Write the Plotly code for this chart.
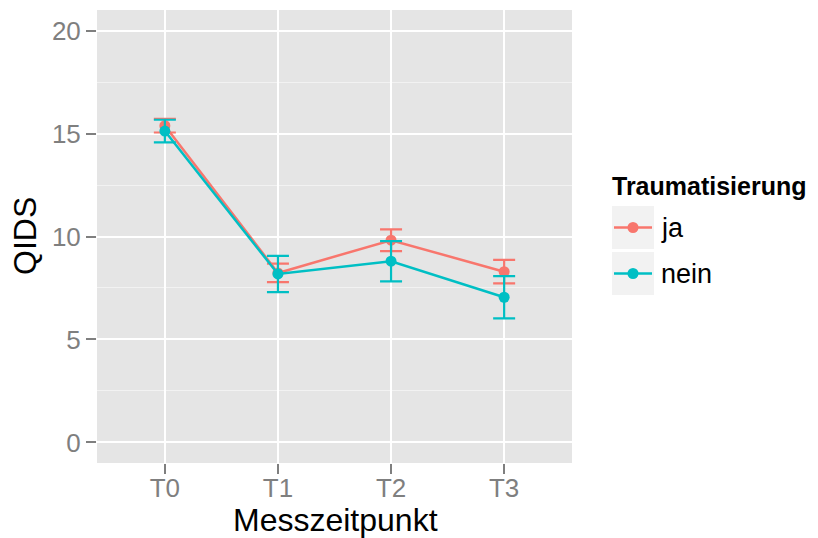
import plotly.graph_objects as go

# ---- data ----
times = ["T0", "T1", "T2", "T3"]
groups = ["ja", "nein"]
ja_mean = [15.38, 8.23, 9.82, 8.29]
ja_se = [0.33, 0.45, 0.53, 0.57]
nein_mean = [15.12, 8.18, 8.80, 7.05]
nein_se = [0.55, 0.88, 0.98, 1.03]
y_ticks = [0, 5, 10, 15, 20]

colors = {"ja": "#F8766D", "nein": "#00BFC4"}
FONT = "Liberation Sans, Arial, Helvetica, sans-serif"

OFF = 8  # page body margin
W, H = 818 - OFF, 538 - OFF
# panel edges in page pixels
PL, PR, PT, PB = 97, 572, 10, 463
L, R, T, B = PL - OFF, PR - OFF, PT - OFF, PB - OFF

fig = go.Figure()
for g, m, se in [("ja", ja_mean, ja_se), ("nein", nein_mean, nein_se)]:
    fig.add_trace(go.Scatter(
        x=times, y=m, mode="lines+markers", name=g, showlegend=False,
        line=dict(color=colors[g], width=2.5),
        marker=dict(color=colors[g], size=11),
        error_y=dict(type="data", array=se, visible=True, color=colors[g],
                     thickness=2.2, width=11),
    ))

def px_x(p):  # page px -> paper
    return (p - PL) / (PR - PL)

def px_y(p):
    return (PB - p) / (PB - PT)

shapes = []
annotations = []
annotations.append(dict(x=px_x(610), y=px_y(186), xref="paper", yref="paper",
                        text="<b>Traumatisierung</b>", showarrow=False,
                        xanchor="left", yanchor="middle",
                        font=dict(family=FONT, size=25, color="black")))
key_boxes = [(206, 249), (252, 295)]
for (y0, y1), g in zip(key_boxes, groups):
    shapes.append(dict(type="rect", xref="paper", yref="paper",
                       x0=px_x(612), x1=px_x(654), y0=px_y(y1), y1=px_y(y0),
                       fillcolor="#F2F2F2", line=dict(width=0), layer="below"))
    yc = (y0 + y1) / 2
    shapes.append(dict(type="line", xref="paper", yref="paper",
                       x0=px_x(614), x1=px_x(652), y0=px_y(yc), y1=px_y(yc),
                       line=dict(color=colors[g], width=2.5)))
    r = 5.5
    shapes.append(dict(type="circle", xref="paper", yref="paper",
                       x0=px_x(633 - r), x1=px_x(633 + r),
                       y0=px_y(yc + r), y1=px_y(yc - r),
                       fillcolor=colors[g], line=dict(width=0)))
    annotations.append(dict(x=px_x(659), y=px_y(yc), xref="paper", yref="paper",
                            text=g, showarrow=False, xanchor="left",
                            yanchor="middle",
                            font=dict(family=FONT, size=27, color="black")))

# axis titles
annotations.append(dict(x=px_x(335), y=px_y(520), xref="paper", yref="paper",
                        text="Messzeitpunkt", showarrow=False,
                        xanchor="center", yanchor="middle",
                        font=dict(family=FONT, size=32, color="black")))
annotations.append(dict(x=px_x(25), y=px_y(236), xref="paper", yref="paper",
                        text="QIDS", showarrow=False, textangle=-90,
                        xanchor="center", yanchor="middle",
                        font=dict(family=FONT, size=32, color="black")))

fig.update_layout(
    width=W, height=H,
    margin=dict(l=L, r=W - R, t=T, b=H - B, pad=0),
    paper_bgcolor="white", plot_bgcolor="#E5E5E5",
    font=dict(family=FONT, color="black"),
    shapes=shapes, annotations=annotations,
    showlegend=False,
)
fig.update_xaxes(
    type="category", categoryorder="array", categoryarray=times,
    range=[-0.6, 3.6], showgrid=True, gridcolor="white", gridwidth=2,
    zeroline=False, showline=False,
    ticks="outside", ticklen=10, tickwidth=2, tickcolor="#7F7F7F",
    ticklabelstandoff=-8,
    tickfont=dict(family=FONT, size=26, color="#7F7F7F"),
    automargin=False,
)
fig.update_yaxes(
    range=[-1, 21], tickvals=y_ticks, ticktext=[str(v) for v in y_ticks],
    showgrid=True, gridcolor="white", gridwidth=2,
    minor=dict(showgrid=True, gridcolor="#F2F2F2", gridwidth=1, dtick=2.5, tick0=2.5, ticks=""),
    zeroline=False, showline=False,
    ticks="outside", ticklen=10, tickwidth=2, tickcolor="#7F7F7F",
    ticklabelstandoff=0,
    tickfont=dict(family=FONT, size=26, color="#7F7F7F"),
    automargin=False,
)

fig.write_html("out.html")
